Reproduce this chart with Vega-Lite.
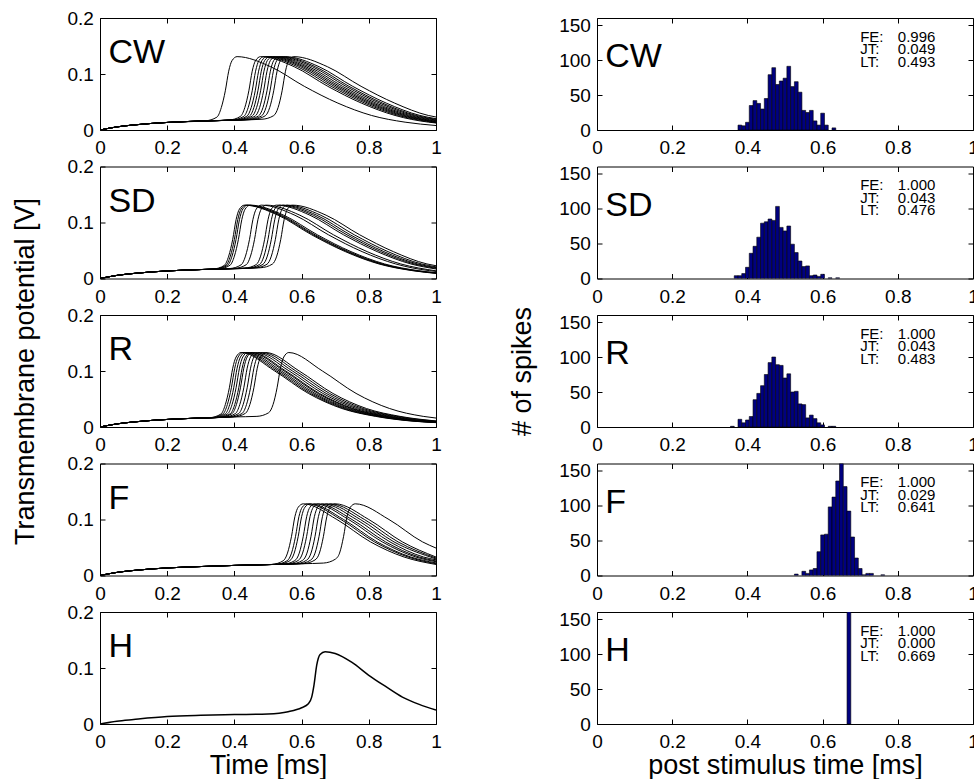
{
"$schema":"https://vega.github.io/schema/vega-lite/v6.json",
"background":"white",
"padding":{"left":11,"top":8,"right":0,"bottom":0},
"columns":2,
"spacing":{"row":36.5,"column":161},
"bounds":"flush",
"align":"each",
"datasets":{
"stats":[
{"p":"CW","vals":["0.996","0.049","0.493"]},
{"p":"SD","vals":["1.000","0.043","0.476"]},
{"p":"R","vals":["1.000","0.043","0.483"]},
{"p":"F","vals":["1.000","0.029","0.641"]},
{"p":"H","vals":["1.000","0.000","0.669"]}],
"cw":[
{"k":1,"t":0,"v":0},{"k":1,"t":0.05,"v":0.0055},{"k":1,"t":0.1,"v":0.009},{"k":1,"t":0.2,"v":0.0135},{"k":1,"t":0.313,"v":0.0163},{"k":1,"t":0.348,"v":0.023},{"k":1,"t":0.361,"v":0.04},{"k":1,"t":0.373,"v":0.07},{"k":1,"t":0.383,"v":0.105},{"k":1,"t":0.393,"v":0.124},{"k":1,"t":0.408,"v":0.131},{"k":1,"t":0.508,"v":0.113},{"k":1,"t":0.608,"v":0.078},{"k":1,"t":0.708,"v":0.048},{"k":1,"t":0.808,"v":0.026},{"k":1,"t":0.908,"v":0.014},{"k":1,"t":1,"v":0.008},
{"k":2,"t":0,"v":0},{"k":2,"t":0.05,"v":0.0055},{"k":2,"t":0.1,"v":0.009},{"k":2,"t":0.2,"v":0.0135},{"k":2,"t":0.3,"v":0.016},{"k":2,"t":0.383,"v":0.0177},{"k":2,"t":0.418,"v":0.0243},{"k":2,"t":0.431,"v":0.04},{"k":2,"t":0.443,"v":0.07},{"k":2,"t":0.453,"v":0.105},{"k":2,"t":0.463,"v":0.124},{"k":2,"t":0.478,"v":0.131},{"k":2,"t":0.578,"v":0.113},{"k":2,"t":0.678,"v":0.078},{"k":2,"t":0.778,"v":0.048},{"k":2,"t":0.878,"v":0.026},{"k":2,"t":0.978,"v":0.014},{"k":2,"t":1,"v":0.0125},
{"k":3,"t":0,"v":0},{"k":3,"t":0.05,"v":0.0055},{"k":3,"t":0.1,"v":0.009},{"k":3,"t":0.2,"v":0.0135},{"k":3,"t":0.3,"v":0.016},{"k":3,"t":0.393,"v":0.0179},{"k":3,"t":0.428,"v":0.0244},{"k":3,"t":0.441,"v":0.04},{"k":3,"t":0.453,"v":0.07},{"k":3,"t":0.463,"v":0.105},{"k":3,"t":0.473,"v":0.124},{"k":3,"t":0.488,"v":0.131},{"k":3,"t":0.588,"v":0.113},{"k":3,"t":0.688,"v":0.078},{"k":3,"t":0.788,"v":0.048},{"k":3,"t":0.888,"v":0.026},{"k":3,"t":1,"v":0.013},
{"k":4,"t":0,"v":0},{"k":4,"t":0.05,"v":0.0055},{"k":4,"t":0.1,"v":0.009},{"k":4,"t":0.2,"v":0.0135},{"k":4,"t":0.3,"v":0.016},{"k":4,"t":0.402,"v":0.018},{"k":4,"t":0.437,"v":0.0246},{"k":4,"t":0.45,"v":0.04},{"k":4,"t":0.462,"v":0.07},{"k":4,"t":0.472,"v":0.105},{"k":4,"t":0.482,"v":0.124},{"k":4,"t":0.497,"v":0.131},{"k":4,"t":0.597,"v":0.113},{"k":4,"t":0.697,"v":0.078},{"k":4,"t":0.797,"v":0.048},{"k":4,"t":0.897,"v":0.026},{"k":4,"t":1,"v":0.014},
{"k":5,"t":0,"v":0},{"k":5,"t":0.05,"v":0.0055},{"k":5,"t":0.1,"v":0.009},{"k":5,"t":0.2,"v":0.0135},{"k":5,"t":0.3,"v":0.016},{"k":5,"t":0.41,"v":0.0182},{"k":5,"t":0.445,"v":0.0247},{"k":5,"t":0.458,"v":0.04},{"k":5,"t":0.47,"v":0.07},{"k":5,"t":0.48,"v":0.105},{"k":5,"t":0.49,"v":0.124},{"k":5,"t":0.505,"v":0.131},{"k":5,"t":0.605,"v":0.113},{"k":5,"t":0.705,"v":0.078},{"k":5,"t":0.805,"v":0.048},{"k":5,"t":0.905,"v":0.026},{"k":5,"t":1,"v":0.0146},
{"k":6,"t":0,"v":0},{"k":6,"t":0.05,"v":0.0055},{"k":6,"t":0.1,"v":0.009},{"k":6,"t":0.2,"v":0.0135},{"k":6,"t":0.3,"v":0.016},{"k":6,"t":0.418,"v":0.0183},{"k":6,"t":0.453,"v":0.0248},{"k":6,"t":0.466,"v":0.04},{"k":6,"t":0.478,"v":0.07},{"k":6,"t":0.488,"v":0.105},{"k":6,"t":0.498,"v":0.124},{"k":6,"t":0.513,"v":0.131},{"k":6,"t":0.613,"v":0.113},{"k":6,"t":0.713,"v":0.078},{"k":6,"t":0.813,"v":0.048},{"k":6,"t":0.913,"v":0.026},{"k":6,"t":1,"v":0.0156},
{"k":7,"t":0,"v":0},{"k":7,"t":0.05,"v":0.0055},{"k":7,"t":0.1,"v":0.009},{"k":7,"t":0.2,"v":0.0135},{"k":7,"t":0.3,"v":0.016},{"k":7,"t":0.427,"v":0.0184},{"k":7,"t":0.462,"v":0.0249},{"k":7,"t":0.475,"v":0.04},{"k":7,"t":0.487,"v":0.07},{"k":7,"t":0.497,"v":0.105},{"k":7,"t":0.507,"v":0.124},{"k":7,"t":0.522,"v":0.131},{"k":7,"t":0.622,"v":0.113},{"k":7,"t":0.722,"v":0.078},{"k":7,"t":0.822,"v":0.048},{"k":7,"t":0.922,"v":0.026},{"k":7,"t":1,"v":0.0166},
{"k":8,"t":0,"v":0},{"k":8,"t":0.05,"v":0.0055},{"k":8,"t":0.1,"v":0.009},{"k":8,"t":0.2,"v":0.0135},{"k":8,"t":0.3,"v":0.016},{"k":8,"t":0.437,"v":0.0186},{"k":8,"t":0.472,"v":0.0251},{"k":8,"t":0.485,"v":0.04},{"k":8,"t":0.497,"v":0.07},{"k":8,"t":0.507,"v":0.105},{"k":8,"t":0.517,"v":0.124},{"k":8,"t":0.532,"v":0.131},{"k":8,"t":0.632,"v":0.113},{"k":8,"t":0.732,"v":0.078},{"k":8,"t":0.832,"v":0.048},{"k":8,"t":0.932,"v":0.026},{"k":8,"t":1,"v":0.0178},
{"k":9,"t":0,"v":0},{"k":9,"t":0.05,"v":0.0055},{"k":9,"t":0.1,"v":0.009},{"k":9,"t":0.2,"v":0.0135},{"k":9,"t":0.3,"v":0.016},{"k":9,"t":0.446,"v":0.0187},{"k":9,"t":0.481,"v":0.0252},{"k":9,"t":0.494,"v":0.04},{"k":9,"t":0.506,"v":0.07},{"k":9,"t":0.516,"v":0.105},{"k":9,"t":0.526,"v":0.124},{"k":9,"t":0.541,"v":0.131},{"k":9,"t":0.641,"v":0.113},{"k":9,"t":0.741,"v":0.078},{"k":9,"t":0.841,"v":0.048},{"k":9,"t":0.941,"v":0.026},{"k":9,"t":1,"v":0.0189},
{"k":10,"t":0,"v":0},{"k":10,"t":0.05,"v":0.0055},{"k":10,"t":0.1,"v":0.009},{"k":10,"t":0.2,"v":0.0135},{"k":10,"t":0.3,"v":0.016},{"k":10,"t":0.457,"v":0.0189},{"k":10,"t":0.492,"v":0.0254},{"k":10,"t":0.505,"v":0.04},{"k":10,"t":0.517,"v":0.07},{"k":10,"t":0.527,"v":0.105},{"k":10,"t":0.537,"v":0.124},{"k":10,"t":0.552,"v":0.131},{"k":10,"t":0.652,"v":0.113},{"k":10,"t":0.752,"v":0.078},{"k":10,"t":0.852,"v":0.048},{"k":10,"t":0.952,"v":0.026},{"k":10,"t":1,"v":0.0202},
{"k":11,"t":0,"v":0},{"k":11,"t":0.05,"v":0.0055},{"k":11,"t":0.1,"v":0.009},{"k":11,"t":0.2,"v":0.0135},{"k":11,"t":0.3,"v":0.016},{"k":11,"t":0.482,"v":0.0192},{"k":11,"t":0.517,"v":0.0257},{"k":11,"t":0.53,"v":0.04},{"k":11,"t":0.542,"v":0.07},{"k":11,"t":0.552,"v":0.105},{"k":11,"t":0.562,"v":0.124},{"k":11,"t":0.577,"v":0.131},{"k":11,"t":0.677,"v":0.113},{"k":11,"t":0.777,"v":0.078},{"k":11,"t":0.877,"v":0.048},{"k":11,"t":0.977,"v":0.026},{"k":11,"t":1,"v":0.0232}],
"sd":[
{"k":1,"t":0,"v":0},{"k":1,"t":0.05,"v":0.0055},{"k":1,"t":0.1,"v":0.009},{"k":1,"t":0.2,"v":0.0135},{"k":1,"t":0.3,"v":0.016},{"k":1,"t":0.335,"v":0.0167},{"k":1,"t":0.37,"v":0.0234},{"k":1,"t":0.383,"v":0.04},{"k":1,"t":0.395,"v":0.07},{"k":1,"t":0.405,"v":0.105},{"k":1,"t":0.415,"v":0.124},{"k":1,"t":0.43,"v":0.131},{"k":1,"t":0.53,"v":0.113},{"k":1,"t":0.63,"v":0.078},{"k":1,"t":0.73,"v":0.048},{"k":1,"t":0.83,"v":0.026},{"k":1,"t":0.93,"v":0.014},{"k":1,"t":1,"v":0.0091},
{"k":2,"t":0,"v":0},{"k":2,"t":0.05,"v":0.0055},{"k":2,"t":0.1,"v":0.009},{"k":2,"t":0.2,"v":0.0135},{"k":2,"t":0.3,"v":0.016},{"k":2,"t":0.34,"v":0.0168},{"k":2,"t":0.375,"v":0.0235},{"k":2,"t":0.388,"v":0.04},{"k":2,"t":0.4,"v":0.07},{"k":2,"t":0.41,"v":0.105},{"k":2,"t":0.42,"v":0.124},{"k":2,"t":0.435,"v":0.131},{"k":2,"t":0.535,"v":0.113},{"k":2,"t":0.635,"v":0.078},{"k":2,"t":0.735,"v":0.048},{"k":2,"t":0.835,"v":0.026},{"k":2,"t":0.935,"v":0.014},{"k":2,"t":1,"v":0.0095},
{"k":3,"t":0,"v":0},{"k":3,"t":0.05,"v":0.0055},{"k":3,"t":0.1,"v":0.009},{"k":3,"t":0.2,"v":0.0135},{"k":3,"t":0.3,"v":0.016},{"k":3,"t":0.345,"v":0.0169},{"k":3,"t":0.38,"v":0.0236},{"k":3,"t":0.393,"v":0.04},{"k":3,"t":0.405,"v":0.07},{"k":3,"t":0.415,"v":0.105},{"k":3,"t":0.425,"v":0.124},{"k":3,"t":0.44,"v":0.131},{"k":3,"t":0.54,"v":0.113},{"k":3,"t":0.64,"v":0.078},{"k":3,"t":0.74,"v":0.048},{"k":3,"t":0.84,"v":0.026},{"k":3,"t":0.94,"v":0.014},{"k":3,"t":1,"v":0.0098},
{"k":4,"t":0,"v":0},{"k":4,"t":0.05,"v":0.0055},{"k":4,"t":0.1,"v":0.009},{"k":4,"t":0.2,"v":0.0135},{"k":4,"t":0.3,"v":0.016},{"k":4,"t":0.352,"v":0.017},{"k":4,"t":0.387,"v":0.0237},{"k":4,"t":0.4,"v":0.04},{"k":4,"t":0.412,"v":0.07},{"k":4,"t":0.422,"v":0.105},{"k":4,"t":0.432,"v":0.124},{"k":4,"t":0.447,"v":0.131},{"k":4,"t":0.547,"v":0.113},{"k":4,"t":0.647,"v":0.078},{"k":4,"t":0.747,"v":0.048},{"k":4,"t":0.847,"v":0.026},{"k":4,"t":0.947,"v":0.014},{"k":4,"t":1,"v":0.0103},
{"k":5,"t":0,"v":0},{"k":5,"t":0.05,"v":0.0055},{"k":5,"t":0.1,"v":0.009},{"k":5,"t":0.2,"v":0.0135},{"k":5,"t":0.3,"v":0.016},{"k":5,"t":0.385,"v":0.0177},{"k":5,"t":0.42,"v":0.0244},{"k":5,"t":0.433,"v":0.04},{"k":5,"t":0.445,"v":0.07},{"k":5,"t":0.455,"v":0.105},{"k":5,"t":0.465,"v":0.124},{"k":5,"t":0.48,"v":0.131},{"k":5,"t":0.58,"v":0.113},{"k":5,"t":0.68,"v":0.078},{"k":5,"t":0.78,"v":0.048},{"k":5,"t":0.88,"v":0.026},{"k":5,"t":0.98,"v":0.014},{"k":5,"t":1,"v":0.0126},
{"k":6,"t":0,"v":0},{"k":6,"t":0.05,"v":0.0055},{"k":6,"t":0.1,"v":0.009},{"k":6,"t":0.2,"v":0.0135},{"k":6,"t":0.3,"v":0.016},{"k":6,"t":0.4,"v":0.018},{"k":6,"t":0.435,"v":0.0245},{"k":6,"t":0.448,"v":0.04},{"k":6,"t":0.46,"v":0.07},{"k":6,"t":0.47,"v":0.105},{"k":6,"t":0.48,"v":0.124},{"k":6,"t":0.495,"v":0.131},{"k":6,"t":0.595,"v":0.113},{"k":6,"t":0.695,"v":0.078},{"k":6,"t":0.795,"v":0.048},{"k":6,"t":0.895,"v":0.026},{"k":6,"t":1,"v":0.0137},
{"k":7,"t":0,"v":0},{"k":7,"t":0.05,"v":0.0055},{"k":7,"t":0.1,"v":0.009},{"k":7,"t":0.2,"v":0.0135},{"k":7,"t":0.3,"v":0.016},{"k":7,"t":0.43,"v":0.0185},{"k":7,"t":0.465,"v":0.0249},{"k":7,"t":0.478,"v":0.04},{"k":7,"t":0.49,"v":0.07},{"k":7,"t":0.5,"v":0.105},{"k":7,"t":0.51,"v":0.124},{"k":7,"t":0.525,"v":0.131},{"k":7,"t":0.625,"v":0.113},{"k":7,"t":0.725,"v":0.078},{"k":7,"t":0.825,"v":0.048},{"k":7,"t":0.925,"v":0.026},{"k":7,"t":1,"v":0.017},
{"k":8,"t":0,"v":0},{"k":8,"t":0.05,"v":0.0055},{"k":8,"t":0.1,"v":0.009},{"k":8,"t":0.2,"v":0.0135},{"k":8,"t":0.3,"v":0.016},{"k":8,"t":0.44,"v":0.0186},{"k":8,"t":0.475,"v":0.0251},{"k":8,"t":0.488,"v":0.04},{"k":8,"t":0.5,"v":0.07},{"k":8,"t":0.51,"v":0.105},{"k":8,"t":0.52,"v":0.124},{"k":8,"t":0.535,"v":0.131},{"k":8,"t":0.635,"v":0.113},{"k":8,"t":0.735,"v":0.078},{"k":8,"t":0.835,"v":0.048},{"k":8,"t":0.935,"v":0.026},{"k":8,"t":1,"v":0.0182},
{"k":9,"t":0,"v":0},{"k":9,"t":0.05,"v":0.0055},{"k":9,"t":0.1,"v":0.009},{"k":9,"t":0.2,"v":0.0135},{"k":9,"t":0.3,"v":0.016},{"k":9,"t":0.45,"v":0.0188},{"k":9,"t":0.485,"v":0.0253},{"k":9,"t":0.498,"v":0.04},{"k":9,"t":0.51,"v":0.07},{"k":9,"t":0.52,"v":0.105},{"k":9,"t":0.53,"v":0.124},{"k":9,"t":0.545,"v":0.131},{"k":9,"t":0.645,"v":0.113},{"k":9,"t":0.745,"v":0.078},{"k":9,"t":0.845,"v":0.048},{"k":9,"t":0.945,"v":0.026},{"k":9,"t":1,"v":0.0194},
{"k":10,"t":0,"v":0},{"k":10,"t":0.05,"v":0.0055},{"k":10,"t":0.1,"v":0.009},{"k":10,"t":0.2,"v":0.0135},{"k":10,"t":0.3,"v":0.016},{"k":10,"t":0.462,"v":0.0189},{"k":10,"t":0.497,"v":0.0255},{"k":10,"t":0.51,"v":0.04},{"k":10,"t":0.522,"v":0.07},{"k":10,"t":0.532,"v":0.105},{"k":10,"t":0.542,"v":0.124},{"k":10,"t":0.557,"v":0.131},{"k":10,"t":0.657,"v":0.113},{"k":10,"t":0.757,"v":0.078},{"k":10,"t":0.857,"v":0.048},{"k":10,"t":0.957,"v":0.026},{"k":10,"t":1,"v":0.0208},
{"k":11,"t":0,"v":0},{"k":11,"t":0.05,"v":0.0055},{"k":11,"t":0.1,"v":0.009},{"k":11,"t":0.2,"v":0.0135},{"k":11,"t":0.3,"v":0.016},{"k":11,"t":0.478,"v":0.0192},{"k":11,"t":0.513,"v":0.0257},{"k":11,"t":0.526,"v":0.04},{"k":11,"t":0.538,"v":0.07},{"k":11,"t":0.548,"v":0.105},{"k":11,"t":0.558,"v":0.124},{"k":11,"t":0.573,"v":0.131},{"k":11,"t":0.673,"v":0.113},{"k":11,"t":0.773,"v":0.078},{"k":11,"t":0.873,"v":0.048},{"k":11,"t":0.973,"v":0.026},{"k":11,"t":1,"v":0.0228}],
"rr":[
{"k":1,"t":0,"v":0},{"k":1,"t":0.05,"v":0.0055},{"k":1,"t":0.1,"v":0.009},{"k":1,"t":0.2,"v":0.0135},{"k":1,"t":0.3,"v":0.016},{"k":1,"t":0.325,"v":0.0165},{"k":1,"t":0.36,"v":0.0232},{"k":1,"t":0.373,"v":0.04},{"k":1,"t":0.385,"v":0.07},{"k":1,"t":0.395,"v":0.105},{"k":1,"t":0.405,"v":0.125},{"k":1,"t":0.42,"v":0.133},{"k":1,"t":0.52,"v":0.1},{"k":1,"t":0.62,"v":0.06},{"k":1,"t":0.72,"v":0.033},{"k":1,"t":0.82,"v":0.019},{"k":1,"t":0.92,"v":0.011},{"k":1,"t":1,"v":0.0078},
{"k":2,"t":0,"v":0},{"k":2,"t":0.05,"v":0.0055},{"k":2,"t":0.1,"v":0.009},{"k":2,"t":0.2,"v":0.0135},{"k":2,"t":0.3,"v":0.016},{"k":2,"t":0.331,"v":0.0166},{"k":2,"t":0.366,"v":0.0233},{"k":2,"t":0.379,"v":0.04},{"k":2,"t":0.391,"v":0.07},{"k":2,"t":0.401,"v":0.105},{"k":2,"t":0.411,"v":0.125},{"k":2,"t":0.426,"v":0.133},{"k":2,"t":0.526,"v":0.1},{"k":2,"t":0.626,"v":0.06},{"k":2,"t":0.726,"v":0.033},{"k":2,"t":0.826,"v":0.019},{"k":2,"t":0.926,"v":0.011},{"k":2,"t":1,"v":0.008},
{"k":3,"t":0,"v":0},{"k":3,"t":0.05,"v":0.0055},{"k":3,"t":0.1,"v":0.009},{"k":3,"t":0.2,"v":0.0135},{"k":3,"t":0.3,"v":0.016},{"k":3,"t":0.338,"v":0.0168},{"k":3,"t":0.373,"v":0.0235},{"k":3,"t":0.386,"v":0.04},{"k":3,"t":0.398,"v":0.07},{"k":3,"t":0.408,"v":0.105},{"k":3,"t":0.418,"v":0.125},{"k":3,"t":0.433,"v":0.133},{"k":3,"t":0.533,"v":0.1},{"k":3,"t":0.633,"v":0.06},{"k":3,"t":0.733,"v":0.033},{"k":3,"t":0.833,"v":0.019},{"k":3,"t":0.933,"v":0.011},{"k":3,"t":1,"v":0.0083},
{"k":4,"t":0,"v":0},{"k":4,"t":0.05,"v":0.0055},{"k":4,"t":0.1,"v":0.009},{"k":4,"t":0.2,"v":0.0135},{"k":4,"t":0.3,"v":0.016},{"k":4,"t":0.345,"v":0.0169},{"k":4,"t":0.38,"v":0.0236},{"k":4,"t":0.393,"v":0.04},{"k":4,"t":0.405,"v":0.07},{"k":4,"t":0.415,"v":0.105},{"k":4,"t":0.425,"v":0.125},{"k":4,"t":0.44,"v":0.133},{"k":4,"t":0.54,"v":0.1},{"k":4,"t":0.64,"v":0.06},{"k":4,"t":0.74,"v":0.033},{"k":4,"t":0.84,"v":0.019},{"k":4,"t":0.94,"v":0.011},{"k":4,"t":1,"v":0.0086},
{"k":5,"t":0,"v":0},{"k":5,"t":0.05,"v":0.0055},{"k":5,"t":0.1,"v":0.009},{"k":5,"t":0.2,"v":0.0135},{"k":5,"t":0.3,"v":0.016},{"k":5,"t":0.353,"v":0.0171},{"k":5,"t":0.388,"v":0.0238},{"k":5,"t":0.401,"v":0.04},{"k":5,"t":0.413,"v":0.07},{"k":5,"t":0.423,"v":0.105},{"k":5,"t":0.433,"v":0.125},{"k":5,"t":0.448,"v":0.133},{"k":5,"t":0.548,"v":0.1},{"k":5,"t":0.648,"v":0.06},{"k":5,"t":0.748,"v":0.033},{"k":5,"t":0.848,"v":0.019},{"k":5,"t":0.948,"v":0.011},{"k":5,"t":1,"v":0.0089},
{"k":6,"t":0,"v":0},{"k":6,"t":0.05,"v":0.0055},{"k":6,"t":0.1,"v":0.009},{"k":6,"t":0.2,"v":0.0135},{"k":6,"t":0.3,"v":0.016},{"k":6,"t":0.358,"v":0.0172},{"k":6,"t":0.393,"v":0.0239},{"k":6,"t":0.406,"v":0.04},{"k":6,"t":0.418,"v":0.07},{"k":6,"t":0.428,"v":0.105},{"k":6,"t":0.438,"v":0.125},{"k":6,"t":0.453,"v":0.133},{"k":6,"t":0.553,"v":0.1},{"k":6,"t":0.653,"v":0.06},{"k":6,"t":0.753,"v":0.033},{"k":6,"t":0.853,"v":0.019},{"k":6,"t":0.953,"v":0.011},{"k":6,"t":1,"v":0.0091},
{"k":7,"t":0,"v":0},{"k":7,"t":0.05,"v":0.0055},{"k":7,"t":0.1,"v":0.009},{"k":7,"t":0.2,"v":0.0135},{"k":7,"t":0.3,"v":0.016},{"k":7,"t":0.368,"v":0.0174},{"k":7,"t":0.403,"v":0.024},{"k":7,"t":0.416,"v":0.04},{"k":7,"t":0.428,"v":0.07},{"k":7,"t":0.438,"v":0.105},{"k":7,"t":0.448,"v":0.125},{"k":7,"t":0.463,"v":0.133},{"k":7,"t":0.563,"v":0.1},{"k":7,"t":0.663,"v":0.06},{"k":7,"t":0.763,"v":0.033},{"k":7,"t":0.863,"v":0.019},{"k":7,"t":0.963,"v":0.011},{"k":7,"t":1,"v":0.0095},
{"k":8,"t":0,"v":0},{"k":8,"t":0.05,"v":0.0055},{"k":8,"t":0.1,"v":0.009},{"k":8,"t":0.2,"v":0.0135},{"k":8,"t":0.3,"v":0.016},{"k":8,"t":0.378,"v":0.0176},{"k":8,"t":0.413,"v":0.0242},{"k":8,"t":0.426,"v":0.04},{"k":8,"t":0.438,"v":0.07},{"k":8,"t":0.448,"v":0.105},{"k":8,"t":0.458,"v":0.125},{"k":8,"t":0.473,"v":0.133},{"k":8,"t":0.573,"v":0.1},{"k":8,"t":0.673,"v":0.06},{"k":8,"t":0.773,"v":0.033},{"k":8,"t":0.873,"v":0.019},{"k":8,"t":0.973,"v":0.011},{"k":8,"t":1,"v":0.0099},
{"k":9,"t":0,"v":0},{"k":9,"t":0.05,"v":0.0055},{"k":9,"t":0.1,"v":0.009},{"k":9,"t":0.2,"v":0.0135},{"k":9,"t":0.3,"v":0.016},{"k":9,"t":0.388,"v":0.0178},{"k":9,"t":0.423,"v":0.0243},{"k":9,"t":0.436,"v":0.04},{"k":9,"t":0.448,"v":0.07},{"k":9,"t":0.458,"v":0.105},{"k":9,"t":0.468,"v":0.125},{"k":9,"t":0.483,"v":0.133},{"k":9,"t":0.583,"v":0.1},{"k":9,"t":0.683,"v":0.06},{"k":9,"t":0.783,"v":0.033},{"k":9,"t":0.883,"v":0.019},{"k":9,"t":1,"v":0.0104},
{"k":10,"t":0,"v":0},{"k":10,"t":0.05,"v":0.0055},{"k":10,"t":0.1,"v":0.009},{"k":10,"t":0.2,"v":0.0135},{"k":10,"t":0.3,"v":0.016},{"k":10,"t":0.398,"v":0.018},{"k":10,"t":0.433,"v":0.0245},{"k":10,"t":0.446,"v":0.04},{"k":10,"t":0.458,"v":0.07},{"k":10,"t":0.468,"v":0.105},{"k":10,"t":0.478,"v":0.125},{"k":10,"t":0.493,"v":0.133},{"k":10,"t":0.593,"v":0.1},{"k":10,"t":0.693,"v":0.06},{"k":10,"t":0.793,"v":0.033},{"k":10,"t":0.893,"v":0.019},{"k":10,"t":1,"v":0.0108},
{"k":11,"t":0,"v":0},{"k":11,"t":0.05,"v":0.0055},{"k":11,"t":0.1,"v":0.009},{"k":11,"t":0.2,"v":0.0135},{"k":11,"t":0.3,"v":0.016},{"k":11,"t":0.4,"v":0.018},{"k":11,"t":0.467,"v":0.019},{"k":11,"t":0.502,"v":0.0255},{"k":11,"t":0.515,"v":0.04},{"k":11,"t":0.527,"v":0.07},{"k":11,"t":0.537,"v":0.105},{"k":11,"t":0.547,"v":0.125},{"k":11,"t":0.562,"v":0.133},{"k":11,"t":0.662,"v":0.1},{"k":11,"t":0.762,"v":0.06},{"k":11,"t":0.862,"v":0.033},{"k":11,"t":0.962,"v":0.019},{"k":11,"t":1,"v":0.016}],
"ff":[
{"k":1,"t":0,"v":0},{"k":1,"t":0.05,"v":0.0055},{"k":1,"t":0.1,"v":0.009},{"k":1,"t":0.2,"v":0.0135},{"k":1,"t":0.3,"v":0.016},{"k":1,"t":0.4,"v":0.018},{"k":1,"t":0.51,"v":0.0197},{"k":1,"t":0.545,"v":0.0262},{"k":1,"t":0.558,"v":0.04},{"k":1,"t":0.57,"v":0.07},{"k":1,"t":0.58,"v":0.105},{"k":1,"t":0.59,"v":0.122},{"k":1,"t":0.605,"v":0.128},{"k":1,"t":0.705,"v":0.1},{"k":1,"t":0.805,"v":0.06},{"k":1,"t":0.905,"v":0.033},{"k":1,"t":1,"v":0.0197},
{"k":2,"t":0,"v":0},{"k":2,"t":0.05,"v":0.0055},{"k":2,"t":0.1,"v":0.009},{"k":2,"t":0.2,"v":0.0135},{"k":2,"t":0.3,"v":0.016},{"k":2,"t":0.4,"v":0.018},{"k":2,"t":0.522,"v":0.0198},{"k":2,"t":0.557,"v":0.0264},{"k":2,"t":0.57,"v":0.04},{"k":2,"t":0.582,"v":0.07},{"k":2,"t":0.592,"v":0.105},{"k":2,"t":0.602,"v":0.122},{"k":2,"t":0.617,"v":0.128},{"k":2,"t":0.717,"v":0.1},{"k":2,"t":0.817,"v":0.06},{"k":2,"t":0.917,"v":0.033},{"k":2,"t":1,"v":0.021},
{"k":3,"t":0,"v":0},{"k":3,"t":0.05,"v":0.0055},{"k":3,"t":0.1,"v":0.009},{"k":3,"t":0.2,"v":0.0135},{"k":3,"t":0.3,"v":0.016},{"k":3,"t":0.4,"v":0.018},{"k":3,"t":0.5,"v":0.0195},{"k":3,"t":0.53,"v":0.02},{"k":3,"t":0.565,"v":0.0265},{"k":3,"t":0.578,"v":0.04},{"k":3,"t":0.59,"v":0.07},{"k":3,"t":0.6,"v":0.105},{"k":3,"t":0.61,"v":0.122},{"k":3,"t":0.625,"v":0.128},{"k":3,"t":0.725,"v":0.1},{"k":3,"t":0.825,"v":0.06},{"k":3,"t":0.925,"v":0.033},{"k":3,"t":1,"v":0.0225},
{"k":4,"t":0,"v":0},{"k":4,"t":0.05,"v":0.0055},{"k":4,"t":0.1,"v":0.009},{"k":4,"t":0.2,"v":0.0135},{"k":4,"t":0.3,"v":0.016},{"k":4,"t":0.4,"v":0.018},{"k":4,"t":0.5,"v":0.0195},{"k":4,"t":0.545,"v":0.0202},{"k":4,"t":0.58,"v":0.0267},{"k":4,"t":0.593,"v":0.04},{"k":4,"t":0.605,"v":0.07},{"k":4,"t":0.615,"v":0.105},{"k":4,"t":0.625,"v":0.122},{"k":4,"t":0.64,"v":0.128},{"k":4,"t":0.74,"v":0.1},{"k":4,"t":0.84,"v":0.06},{"k":4,"t":0.94,"v":0.033},{"k":4,"t":1,"v":0.0246},
{"k":5,"t":0,"v":0},{"k":5,"t":0.05,"v":0.0055},{"k":5,"t":0.1,"v":0.009},{"k":5,"t":0.2,"v":0.0135},{"k":5,"t":0.3,"v":0.016},{"k":5,"t":0.4,"v":0.018},{"k":5,"t":0.5,"v":0.0195},{"k":5,"t":0.555,"v":0.0203},{"k":5,"t":0.59,"v":0.0269},{"k":5,"t":0.603,"v":0.04},{"k":5,"t":0.615,"v":0.07},{"k":5,"t":0.625,"v":0.105},{"k":5,"t":0.635,"v":0.122},{"k":5,"t":0.65,"v":0.128},{"k":5,"t":0.75,"v":0.1},{"k":5,"t":0.85,"v":0.06},{"k":5,"t":0.95,"v":0.033},{"k":5,"t":1,"v":0.026},
{"k":6,"t":0,"v":0},{"k":6,"t":0.05,"v":0.0055},{"k":6,"t":0.1,"v":0.009},{"k":6,"t":0.2,"v":0.0135},{"k":6,"t":0.3,"v":0.016},{"k":6,"t":0.4,"v":0.018},{"k":6,"t":0.5,"v":0.0195},{"k":6,"t":0.568,"v":0.0205},{"k":6,"t":0.603,"v":0.0271},{"k":6,"t":0.616,"v":0.04},{"k":6,"t":0.628,"v":0.07},{"k":6,"t":0.638,"v":0.105},{"k":6,"t":0.648,"v":0.122},{"k":6,"t":0.663,"v":0.128},{"k":6,"t":0.763,"v":0.1},{"k":6,"t":0.863,"v":0.06},{"k":6,"t":0.963,"v":0.033},{"k":6,"t":1,"v":0.028},
{"k":7,"t":0,"v":0},{"k":7,"t":0.05,"v":0.0055},{"k":7,"t":0.1,"v":0.009},{"k":7,"t":0.2,"v":0.0135},{"k":7,"t":0.3,"v":0.016},{"k":7,"t":0.4,"v":0.018},{"k":7,"t":0.5,"v":0.0195},{"k":7,"t":0.58,"v":0.0207},{"k":7,"t":0.615,"v":0.0273},{"k":7,"t":0.628,"v":0.04},{"k":7,"t":0.64,"v":0.07},{"k":7,"t":0.65,"v":0.105},{"k":7,"t":0.66,"v":0.122},{"k":7,"t":0.675,"v":0.128},{"k":7,"t":0.775,"v":0.1},{"k":7,"t":0.875,"v":0.06},{"k":7,"t":1,"v":0.0296},
{"k":8,"t":0,"v":0},{"k":8,"t":0.05,"v":0.0055},{"k":8,"t":0.1,"v":0.009},{"k":8,"t":0.2,"v":0.0135},{"k":8,"t":0.3,"v":0.016},{"k":8,"t":0.4,"v":0.018},{"k":8,"t":0.5,"v":0.0195},{"k":8,"t":0.592,"v":0.0209},{"k":8,"t":0.627,"v":0.0275},{"k":8,"t":0.64,"v":0.04},{"k":8,"t":0.652,"v":0.07},{"k":8,"t":0.662,"v":0.105},{"k":8,"t":0.672,"v":0.122},{"k":8,"t":0.687,"v":0.128},{"k":8,"t":0.787,"v":0.1},{"k":8,"t":0.887,"v":0.06},{"k":8,"t":1,"v":0.0312},
{"k":9,"t":0,"v":0},{"k":9,"t":0.05,"v":0.0055},{"k":9,"t":0.1,"v":0.009},{"k":9,"t":0.2,"v":0.0135},{"k":9,"t":0.3,"v":0.016},{"k":9,"t":0.4,"v":0.018},{"k":9,"t":0.5,"v":0.0195},{"k":9,"t":0.605,"v":0.0211},{"k":9,"t":0.64,"v":0.0278},{"k":9,"t":0.653,"v":0.04},{"k":9,"t":0.665,"v":0.07},{"k":9,"t":0.675,"v":0.105},{"k":9,"t":0.685,"v":0.122},{"k":9,"t":0.7,"v":0.128},{"k":9,"t":0.8,"v":0.1},{"k":9,"t":0.9,"v":0.06},{"k":9,"t":1,"v":0.033},
{"k":10,"t":0,"v":0},{"k":10,"t":0.05,"v":0.0055},{"k":10,"t":0.1,"v":0.009},{"k":10,"t":0.2,"v":0.0135},{"k":10,"t":0.3,"v":0.016},{"k":10,"t":0.4,"v":0.018},{"k":10,"t":0.5,"v":0.0195},{"k":10,"t":0.6,"v":0.021},{"k":10,"t":0.665,"v":0.0222},{"k":10,"t":0.7,"v":0.029},{"k":10,"t":0.713,"v":0.04},{"k":10,"t":0.725,"v":0.07},{"k":10,"t":0.735,"v":0.105},{"k":10,"t":0.745,"v":0.122},{"k":10,"t":0.76,"v":0.128},{"k":10,"t":0.86,"v":0.1},{"k":10,"t":0.96,"v":0.06},{"k":10,"t":1,"v":0.049}],
"hh":[
{"k":1,"t":0,"v":0},{"k":1,"t":0.05,"v":0.005},{"k":1,"t":0.1,"v":0.008},{"k":1,"t":0.2,"v":0.0132},{"k":1,"t":0.3,"v":0.0155},{"k":1,"t":0.4,"v":0.0168},{"k":1,"t":0.5,"v":0.018},{"k":1,"t":0.56,"v":0.022},{"k":1,"t":0.6,"v":0.029},{"k":1,"t":0.62,"v":0.036},{"k":1,"t":0.63,"v":0.048},{"k":1,"t":0.637,"v":0.07},{"k":1,"t":0.645,"v":0.105},{"k":1,"t":0.655,"v":0.124},{"k":1,"t":0.67,"v":0.129},{"k":1,"t":0.7,"v":0.126},{"k":1,"t":0.75,"v":0.11},{"k":1,"t":0.8,"v":0.087},{"k":1,"t":0.85,"v":0.067},{"k":1,"t":0.9,"v":0.048},{"k":1,"t":0.95,"v":0.035},{"k":1,"t":1,"v":0.025}],
"hcw":[
{"lo":0.375,"hi":0.385,"n":7},{"lo":0.385,"hi":0.395,"n":6},{"lo":0.395,"hi":0.405,"n":11},{"lo":0.405,"hi":0.415,"n":35},{"lo":0.415,"hi":0.425,"n":42},{"lo":0.425,"hi":0.435,"n":38},{"lo":0.435,"hi":0.445,"n":30},{"lo":0.445,"hi":0.455,"n":45},{"lo":0.455,"hi":0.465,"n":79},{"lo":0.465,"hi":0.475,"n":89},{"lo":0.475,"hi":0.485,"n":65},{"lo":0.485,"hi":0.495,"n":70},{"lo":0.495,"hi":0.505,"n":74},{"lo":0.505,"hi":0.515,"n":91},{"lo":0.515,"hi":0.525,"n":62},{"lo":0.525,"hi":0.535,"n":69},{"lo":0.535,"hi":0.545,"n":54},{"lo":0.545,"hi":0.555,"n":28},{"lo":0.555,"hi":0.565,"n":25},{"lo":0.565,"hi":0.575,"n":28},{"lo":0.575,"hi":0.585,"n":13},{"lo":0.585,"hi":0.595,"n":7},{"lo":0.595,"hi":0.605,"n":24},{"lo":0.605,"hi":0.615,"n":7},{"lo":0.625,"hi":0.635,"n":3}],
"hsd":[
{"lo":0.365,"hi":0.375,"n":4},{"lo":0.375,"hi":0.385,"n":4},{"lo":0.385,"hi":0.395,"n":7},{"lo":0.395,"hi":0.405,"n":16},{"lo":0.405,"hi":0.415,"n":36},{"lo":0.415,"hi":0.425,"n":46},{"lo":0.425,"hi":0.435,"n":59},{"lo":0.435,"hi":0.445,"n":79},{"lo":0.445,"hi":0.455,"n":81},{"lo":0.455,"hi":0.465,"n":85},{"lo":0.465,"hi":0.475,"n":83},{"lo":0.475,"hi":0.485,"n":103},{"lo":0.485,"hi":0.495,"n":73},{"lo":0.495,"hi":0.505,"n":68},{"lo":0.505,"hi":0.515,"n":75},{"lo":0.515,"hi":0.525,"n":49},{"lo":0.525,"hi":0.535,"n":37},{"lo":0.535,"hi":0.545,"n":25},{"lo":0.545,"hi":0.555,"n":17},{"lo":0.555,"hi":0.565,"n":18},{"lo":0.565,"hi":0.575,"n":4},{"lo":0.575,"hi":0.585,"n":5},{"lo":0.585,"hi":0.595,"n":3},{"lo":0.595,"hi":0.605,"n":6},{"lo":0.615,"hi":0.625,"n":1},{"lo":0.635,"hi":0.645,"n":1}],
"hr":[
{"lo":0.355,"hi":0.365,"n":1},{"lo":0.375,"hi":0.385,"n":11},{"lo":0.385,"hi":0.395,"n":6},{"lo":0.395,"hi":0.405,"n":10},{"lo":0.405,"hi":0.415,"n":15},{"lo":0.415,"hi":0.425,"n":39},{"lo":0.425,"hi":0.435,"n":48},{"lo":0.435,"hi":0.445,"n":59},{"lo":0.445,"hi":0.455,"n":75},{"lo":0.455,"hi":0.465,"n":92},{"lo":0.465,"hi":0.475,"n":100},{"lo":0.475,"hi":0.485,"n":89},{"lo":0.485,"hi":0.495,"n":88},{"lo":0.495,"hi":0.505,"n":70},{"lo":0.505,"hi":0.515,"n":76},{"lo":0.515,"hi":0.525,"n":50},{"lo":0.525,"hi":0.535,"n":51},{"lo":0.535,"hi":0.545,"n":33},{"lo":0.545,"hi":0.555,"n":32},{"lo":0.555,"hi":0.565,"n":13},{"lo":0.565,"hi":0.575,"n":17},{"lo":0.575,"hi":0.585,"n":12},{"lo":0.585,"hi":0.595,"n":6},{"lo":0.595,"hi":0.605,"n":3},{"lo":0.615,"hi":0.625,"n":1},{"lo":0.625,"hi":0.635,"n":1}],
"hf":[
{"lo":0.525,"hi":0.535,"n":2},{"lo":0.545,"hi":0.555,"n":6},{"lo":0.555,"hi":0.565,"n":3},{"lo":0.565,"hi":0.575,"n":8},{"lo":0.575,"hi":0.585,"n":10},{"lo":0.585,"hi":0.595,"n":34},{"lo":0.595,"hi":0.605,"n":58},{"lo":0.605,"hi":0.615,"n":59},{"lo":0.615,"hi":0.625,"n":98},{"lo":0.625,"hi":0.635,"n":112},{"lo":0.635,"hi":0.645,"n":135},{"lo":0.645,"hi":0.655,"n":160},{"lo":0.655,"hi":0.665,"n":127},{"lo":0.665,"hi":0.675,"n":92},{"lo":0.675,"hi":0.685,"n":55},{"lo":0.685,"hi":0.695,"n":25},{"lo":0.695,"hi":0.705,"n":10},{"lo":0.705,"hi":0.715,"n":1},{"lo":0.715,"hi":0.725,"n":3},{"lo":0.725,"hi":0.735,"n":3},{"lo":0.755,"hi":0.765,"n":1}],
"hhh":[
{"lo":0.665,"hi":0.675,"n":1000}]
},
"concat":[
{"width":336,"height":112,"data":{"name":"cw"},"resolve":{"axis":{"x":"independent","y":"independent"}},
"layer":[
{"mark":{"type":"line","interpolate":"monotone","color":"black","strokeWidth":1,"clip":true},
"encoding":{"x":{"field":"t","type":"quantitative","scale":{"domain":[0,1]},"axis":{"values":[0,0.2,0.4,0.6,0.8,1],"format":"~g","title":null}},
"y":{"field":"v","type":"quantitative","scale":{"domain":[0,0.2]},"axis":{"values":[0,0.1,0.2],"format":"~g","title":null}},
"detail":{"field":"k","type":"nominal"}}},
{"mark":{"type":"point","opacity":0,"clip":true},
"encoding":{"x":{"field":"t","type":"quantitative","axis":{"orient":"top","labels":false,"title":null,"values":[0,0.2,0.4,0.6,0.8,1]}},
"y":{"field":"v","type":"quantitative","axis":{"orient":"right","labels":false,"title":null,"values":[0,0.1,0.2]}}}},
{"data":{"name":"stats"},"transform":[{"filter":"datum.p == 'CW'"}],
"mark":{"type":"text","align":"left","baseline":"alphabetic","fontSize":34,"color":"black"},
"encoding":{"x":{"datum":0.025,"axis":null},"y":{"datum":0.1196,"axis":null},"text":{"field":"p"}}}]},
{"width":376,"height":112,"data":{"name":"hcw"},"resolve":{"axis":{"x":"independent","y":"independent"}},
"layer":[
{"mark":{"type":"bar","color":"#000080","stroke":"black","strokeWidth":0.6,"clip":true},
"encoding":{"x":{"field":"lo","type":"quantitative","scale":{"domain":[0,1]},"axis":{"values":[0,0.2,0.4,0.6,0.8,1],"format":"~g","title":null}},
"x2":{"field":"hi"},
"y":{"field":"n","type":"quantitative","scale":{"domain":[0,150]},"axis":{"values":[0,50,100,150],"title":null}},
"y2":{"datum":0}}},
{"mark":{"type":"point","opacity":0,"clip":true},
"encoding":{"x":{"field":"lo","type":"quantitative","axis":{"orient":"top","labels":false,"title":null,"values":[0,0.2,0.4,0.6,0.8,1]}},
"y":{"field":"n","type":"quantitative","axis":{"orient":"right","labels":false,"title":null,"values":[0,50,100,150]}}}},
{"data":{"name":"stats"},"transform":[{"filter":"datum.p == 'CW'"}],
"mark":{"type":"text","align":"left","baseline":"alphabetic","fontSize":34,"color":"black"},
"encoding":{"x":{"datum":0.022,"axis":null},"y":{"datum":89.7,"axis":null},"text":{"field":"p"}}},
{"data":{"name":"stats"},"transform":[{"filter":"datum.p == 'CW'"}],
"mark":{"type":"text","text":["FE:","JT:","LT:"],"align":"left","baseline":"alphabetic","fontSize":15,"lineHeight":12.7,"color":"black"},
"encoding":{"x":{"datum":0.7,"axis":null},"y":{"datum":126.3,"axis":null}}},
{"data":{"name":"stats"},"transform":[{"filter":"datum.p == 'CW'"}],
"mark":{"type":"text","align":"left","baseline":"alphabetic","fontSize":15,"lineHeight":12.7,"color":"black"},
"encoding":{"x":{"datum":0.8,"axis":null},"y":{"datum":126.3,"axis":null},"text":{"field":"vals"}}}]},
{"width":336,"height":112,"data":{"name":"sd"},"resolve":{"axis":{"x":"independent","y":"independent"}},
"layer":[
{"mark":{"type":"line","interpolate":"monotone","color":"black","strokeWidth":1,"clip":true},
"encoding":{"x":{"field":"t","type":"quantitative","scale":{"domain":[0,1]},"axis":{"values":[0,0.2,0.4,0.6,0.8,1],"format":"~g","title":null}},
"y":{"field":"v","type":"quantitative","scale":{"domain":[0,0.2]},"axis":{"values":[0,0.1,0.2],"format":"~g","title":null}},
"detail":{"field":"k","type":"nominal"}}},
{"mark":{"type":"point","opacity":0,"clip":true},
"encoding":{"x":{"field":"t","type":"quantitative","axis":{"orient":"top","labels":false,"title":null,"values":[0,0.2,0.4,0.6,0.8,1]}},
"y":{"field":"v","type":"quantitative","axis":{"orient":"right","labels":false,"title":null,"values":[0,0.1,0.2]}}}},
{"data":{"name":"stats"},"transform":[{"filter":"datum.p == 'SD'"}],
"mark":{"type":"text","align":"left","baseline":"alphabetic","fontSize":34,"color":"black"},
"encoding":{"x":{"datum":0.025,"axis":null},"y":{"datum":0.1196,"axis":null},"text":{"field":"p"}}}]},
{"width":376,"height":112,"data":{"name":"hsd"},"resolve":{"axis":{"x":"independent","y":"independent"}},
"layer":[
{"mark":{"type":"bar","color":"#000080","stroke":"black","strokeWidth":0.6,"clip":true},
"encoding":{"x":{"field":"lo","type":"quantitative","scale":{"domain":[0,1]},"axis":{"values":[0,0.2,0.4,0.6,0.8,1],"format":"~g","title":null}},
"x2":{"field":"hi"},
"y":{"field":"n","type":"quantitative","scale":{"domain":[0,150]},"axis":{"values":[0,50,100,150],"title":null}},
"y2":{"datum":0}}},
{"mark":{"type":"point","opacity":0,"clip":true},
"encoding":{"x":{"field":"lo","type":"quantitative","axis":{"orient":"top","labels":false,"title":null,"values":[0,0.2,0.4,0.6,0.8,1]}},
"y":{"field":"n","type":"quantitative","axis":{"orient":"right","labels":false,"title":null,"values":[0,50,100,150]}}}},
{"data":{"name":"stats"},"transform":[{"filter":"datum.p == 'SD'"}],
"mark":{"type":"text","align":"left","baseline":"alphabetic","fontSize":34,"color":"black"},
"encoding":{"x":{"datum":0.022,"axis":null},"y":{"datum":89.7,"axis":null},"text":{"field":"p"}}},
{"data":{"name":"stats"},"transform":[{"filter":"datum.p == 'SD'"}],
"mark":{"type":"text","text":["FE:","JT:","LT:"],"align":"left","baseline":"alphabetic","fontSize":15,"lineHeight":12.7,"color":"black"},
"encoding":{"x":{"datum":0.7,"axis":null},"y":{"datum":126.3,"axis":null}}},
{"data":{"name":"stats"},"transform":[{"filter":"datum.p == 'SD'"}],
"mark":{"type":"text","align":"left","baseline":"alphabetic","fontSize":15,"lineHeight":12.7,"color":"black"},
"encoding":{"x":{"datum":0.8,"axis":null},"y":{"datum":126.3,"axis":null},"text":{"field":"vals"}}}]},
{"width":336,"height":112,"data":{"name":"rr"},"resolve":{"axis":{"x":"independent","y":"independent"}},
"layer":[
{"mark":{"type":"line","interpolate":"monotone","color":"black","strokeWidth":1,"clip":true},
"encoding":{"x":{"field":"t","type":"quantitative","scale":{"domain":[0,1]},"axis":{"values":[0,0.2,0.4,0.6,0.8,1],"format":"~g","title":null}},
"y":{"field":"v","type":"quantitative","scale":{"domain":[0,0.2]},"axis":{"values":[0,0.1,0.2],"format":"~g","title":"Transmembrane potential [V]","titlePadding":27}},
"detail":{"field":"k","type":"nominal"}}},
{"mark":{"type":"point","opacity":0,"clip":true},
"encoding":{"x":{"field":"t","type":"quantitative","axis":{"orient":"top","labels":false,"title":null,"values":[0,0.2,0.4,0.6,0.8,1]}},
"y":{"field":"v","type":"quantitative","axis":{"orient":"right","labels":false,"title":null,"values":[0,0.1,0.2]}}}},
{"data":{"name":"stats"},"transform":[{"filter":"datum.p == 'R'"}],
"mark":{"type":"text","align":"left","baseline":"alphabetic","fontSize":34,"color":"black"},
"encoding":{"x":{"datum":0.025,"axis":null},"y":{"datum":0.1196,"axis":null},"text":{"field":"p"}}}]},
{"width":376,"height":112,"data":{"name":"hr"},"resolve":{"axis":{"x":"independent","y":"independent"}},
"layer":[
{"mark":{"type":"bar","color":"#000080","stroke":"black","strokeWidth":0.6,"clip":true},
"encoding":{"x":{"field":"lo","type":"quantitative","scale":{"domain":[0,1]},"axis":{"values":[0,0.2,0.4,0.6,0.8,1],"format":"~g","title":null}},
"x2":{"field":"hi"},
"y":{"field":"n","type":"quantitative","scale":{"domain":[0,150]},"axis":{"values":[0,50,100,150],"title":"# of spikes","titlePadding":22}},
"y2":{"datum":0}}},
{"mark":{"type":"point","opacity":0,"clip":true},
"encoding":{"x":{"field":"lo","type":"quantitative","axis":{"orient":"top","labels":false,"title":null,"values":[0,0.2,0.4,0.6,0.8,1]}},
"y":{"field":"n","type":"quantitative","axis":{"orient":"right","labels":false,"title":null,"values":[0,50,100,150]}}}},
{"data":{"name":"stats"},"transform":[{"filter":"datum.p == 'R'"}],
"mark":{"type":"text","align":"left","baseline":"alphabetic","fontSize":34,"color":"black"},
"encoding":{"x":{"datum":0.022,"axis":null},"y":{"datum":89.7,"axis":null},"text":{"field":"p"}}},
{"data":{"name":"stats"},"transform":[{"filter":"datum.p == 'R'"}],
"mark":{"type":"text","text":["FE:","JT:","LT:"],"align":"left","baseline":"alphabetic","fontSize":15,"lineHeight":12.7,"color":"black"},
"encoding":{"x":{"datum":0.7,"axis":null},"y":{"datum":126.3,"axis":null}}},
{"data":{"name":"stats"},"transform":[{"filter":"datum.p == 'R'"}],
"mark":{"type":"text","align":"left","baseline":"alphabetic","fontSize":15,"lineHeight":12.7,"color":"black"},
"encoding":{"x":{"datum":0.8,"axis":null},"y":{"datum":126.3,"axis":null},"text":{"field":"vals"}}}]},
{"width":336,"height":112,"data":{"name":"ff"},"resolve":{"axis":{"x":"independent","y":"independent"}},
"layer":[
{"mark":{"type":"line","interpolate":"monotone","color":"black","strokeWidth":1,"clip":true},
"encoding":{"x":{"field":"t","type":"quantitative","scale":{"domain":[0,1]},"axis":{"values":[0,0.2,0.4,0.6,0.8,1],"format":"~g","title":null}},
"y":{"field":"v","type":"quantitative","scale":{"domain":[0,0.2]},"axis":{"values":[0,0.1,0.2],"format":"~g","title":null}},
"detail":{"field":"k","type":"nominal"}}},
{"mark":{"type":"point","opacity":0,"clip":true},
"encoding":{"x":{"field":"t","type":"quantitative","axis":{"orient":"top","labels":false,"title":null,"values":[0,0.2,0.4,0.6,0.8,1]}},
"y":{"field":"v","type":"quantitative","axis":{"orient":"right","labels":false,"title":null,"values":[0,0.1,0.2]}}}},
{"data":{"name":"stats"},"transform":[{"filter":"datum.p == 'F'"}],
"mark":{"type":"text","align":"left","baseline":"alphabetic","fontSize":34,"color":"black"},
"encoding":{"x":{"datum":0.025,"axis":null},"y":{"datum":0.1196,"axis":null},"text":{"field":"p"}}}]},
{"width":376,"height":112,"data":{"name":"hf"},"resolve":{"axis":{"x":"independent","y":"independent"}},
"layer":[
{"mark":{"type":"bar","color":"#000080","stroke":"black","strokeWidth":0.6,"clip":true},
"encoding":{"x":{"field":"lo","type":"quantitative","scale":{"domain":[0,1]},"axis":{"values":[0,0.2,0.4,0.6,0.8,1],"format":"~g","title":null}},
"x2":{"field":"hi"},
"y":{"field":"n","type":"quantitative","scale":{"domain":[0,150]},"axis":{"values":[0,50,100,150],"title":null}},
"y2":{"datum":0}}},
{"mark":{"type":"point","opacity":0,"clip":true},
"encoding":{"x":{"field":"lo","type":"quantitative","axis":{"orient":"top","labels":false,"title":null,"values":[0,0.2,0.4,0.6,0.8,1]}},
"y":{"field":"n","type":"quantitative","axis":{"orient":"right","labels":false,"title":null,"values":[0,50,100,150]}}}},
{"data":{"name":"stats"},"transform":[{"filter":"datum.p == 'F'"}],
"mark":{"type":"text","align":"left","baseline":"alphabetic","fontSize":34,"color":"black"},
"encoding":{"x":{"datum":0.022,"axis":null},"y":{"datum":89.7,"axis":null},"text":{"field":"p"}}},
{"data":{"name":"stats"},"transform":[{"filter":"datum.p == 'F'"}],
"mark":{"type":"text","text":["FE:","JT:","LT:"],"align":"left","baseline":"alphabetic","fontSize":15,"lineHeight":12.7,"color":"black"},
"encoding":{"x":{"datum":0.7,"axis":null},"y":{"datum":126.3,"axis":null}}},
{"data":{"name":"stats"},"transform":[{"filter":"datum.p == 'F'"}],
"mark":{"type":"text","align":"left","baseline":"alphabetic","fontSize":15,"lineHeight":12.7,"color":"black"},
"encoding":{"x":{"datum":0.8,"axis":null},"y":{"datum":126.3,"axis":null},"text":{"field":"vals"}}}]},
{"width":336,"height":112,"data":{"name":"hh"},"resolve":{"axis":{"x":"independent","y":"independent"}},
"layer":[
{"mark":{"type":"line","interpolate":"monotone","color":"black","strokeWidth":1.5,"clip":true},
"encoding":{"x":{"field":"t","type":"quantitative","scale":{"domain":[0,1]},"axis":{"values":[0,0.2,0.4,0.6,0.8,1],"format":"~g","title":"Time [ms]","titlePadding":1}},
"y":{"field":"v","type":"quantitative","scale":{"domain":[0,0.2]},"axis":{"values":[0,0.1,0.2],"format":"~g","title":null}},
"detail":{"field":"k","type":"nominal"}}},
{"mark":{"type":"point","opacity":0,"clip":true},
"encoding":{"x":{"field":"t","type":"quantitative","axis":{"orient":"top","labels":false,"title":null,"values":[0,0.2,0.4,0.6,0.8,1]}},
"y":{"field":"v","type":"quantitative","axis":{"orient":"right","labels":false,"title":null,"values":[0,0.1,0.2]}}}},
{"data":{"name":"stats"},"transform":[{"filter":"datum.p == 'H'"}],
"mark":{"type":"text","align":"left","baseline":"alphabetic","fontSize":34,"color":"black"},
"encoding":{"x":{"datum":0.025,"axis":null},"y":{"datum":0.1196,"axis":null},"text":{"field":"p"}}}]},
{"width":376,"height":112,"data":{"name":"hhh"},"resolve":{"axis":{"x":"independent","y":"independent"}},
"layer":[
{"mark":{"type":"bar","color":"#000080","stroke":"black","strokeWidth":0.6,"clip":true},
"encoding":{"x":{"field":"lo","type":"quantitative","scale":{"domain":[0,1]},"axis":{"values":[0,0.2,0.4,0.6,0.8,1],"format":"~g","title":"post stimulus time [ms]","titlePadding":1}},
"x2":{"field":"hi"},
"y":{"field":"n","type":"quantitative","scale":{"domain":[0,150]},"axis":{"values":[0,50,100,150],"title":null}},
"y2":{"datum":0}}},
{"mark":{"type":"point","opacity":0,"clip":true},
"encoding":{"x":{"field":"lo","type":"quantitative","axis":{"orient":"top","labels":false,"title":null,"values":[0,0.2,0.4,0.6,0.8,1]}},
"y":{"field":"n","type":"quantitative","axis":{"orient":"right","labels":false,"title":null,"values":[0,50,100,150]}}}},
{"data":{"name":"stats"},"transform":[{"filter":"datum.p == 'H'"}],
"mark":{"type":"text","align":"left","baseline":"alphabetic","fontSize":34,"color":"black"},
"encoding":{"x":{"datum":0.022,"axis":null},"y":{"datum":89.7,"axis":null},"text":{"field":"p"}}},
{"data":{"name":"stats"},"transform":[{"filter":"datum.p == 'H'"}],
"mark":{"type":"text","text":["FE:","JT:","LT:"],"align":"left","baseline":"alphabetic","fontSize":15,"lineHeight":12.7,"color":"black"},
"encoding":{"x":{"datum":0.7,"axis":null},"y":{"datum":126.3,"axis":null}}},
{"data":{"name":"stats"},"transform":[{"filter":"datum.p == 'H'"}],
"mark":{"type":"text","align":"left","baseline":"alphabetic","fontSize":15,"lineHeight":12.7,"color":"black"},
"encoding":{"x":{"datum":0.8,"axis":null},"y":{"datum":126.3,"axis":null},"text":{"field":"vals"}}}]}
],
"config":{
"font":"Liberation Sans",
"view":{"stroke":"black","strokeWidth":1},
"axis":{"domain":false,"grid":false,"ticks":true,"tickSize":-5,"tickColor":"black","tickWidth":1,"labelFontSize":19,"labelColor":"black","labelFlush":false,"labelOverlap":false,"titleFontSize":27,"titleFontWeight":"normal","titleColor":"black"},
"axisX":{"labelPadding":13.5},
"axisY":{"labelPadding":11.6}
}
}
